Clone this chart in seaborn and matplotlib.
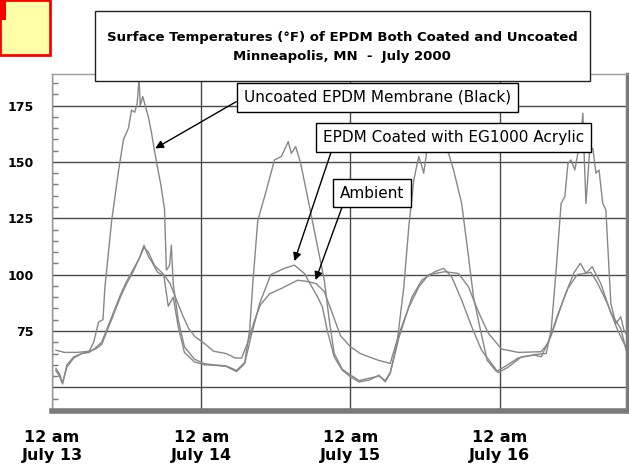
import matplotlib
matplotlib.use("Agg")
import matplotlib.pyplot as plt
import matplotlib.patches as mpatches
from matplotlib.ticker import MultipleLocator
import pandas as pd
import seaborn as sns

# hours since 12 am July 13, temperatures in deg F
AMB_HRS = [0.6, 2, 4, 6, 7, 8, 9, 10, 11, 12, 13, 14, 14.8, 15.5, 16.5, 18, 19, 20, 21, 22, 23,
           24.5, 26, 28, 29.5, 30.5, 31.5, 32.5, 33.5, 35, 37, 39.5, 41, 42.5, 43.8, 44.8, 45.6,
           46.4, 48, 49.6, 51, 52.5, 54.4, 55.8, 57.4, 59, 60.6, 63.2, 65.4, 67, 68, 69, 70.2,
           72.3, 75, 78.7, 79.8, 81.4, 83, 84.5, 86.7, 87.7, 89.3, 90.9, 92.6]
AMB_TEMP = [66.5, 65.5, 65.5, 66, 67, 69, 76, 83, 90, 96, 101, 107, 112, 110, 104, 100, 96, 89,
            82, 76, 72.5, 69.5, 66, 65, 63, 63, 70, 79, 86.5, 91.5, 94, 97.5, 97, 96, 92.5, 85,
            79, 73, 68, 65, 63.5, 62, 60.6, 73.5, 85.5, 94.5, 100, 101.3, 100.5, 94.6, 87.5, 81,
            74, 67, 65.5, 65.8, 69.5, 82.5, 94, 100, 101, 96.5, 87.5, 76, 66]

COAT_HRS = [0.6, 1.2, 1.7, 2.4, 3.5, 4.8, 6, 7, 8, 9, 10, 11, 12, 13, 14, 14.8, 15.5, 16, 17, 18,
            18.7, 19.5, 20.3, 21.3, 22.9, 24.5, 26, 28, 29.7, 31, 32, 33.4, 35.2, 37.4, 39, 40.6,
            42.7, 43.5, 44.3, 45.4, 46.7, 48, 49.4, 51, 52.6, 53.6, 54.4, 55.8, 57.9, 59.5, 61.6,
            63, 64.3, 65.9, 67.5, 69.1, 70.7, 71.8, 73.4, 75.5, 77.6, 78.7, 80.3, 82.4, 84, 85,
            85.9, 86.9, 88.3, 89.9, 91.5, 92.6]
COAT_TEMP = [57.5, 55, 51.5, 60, 63.5, 65, 65.5, 67.5, 70, 77, 84, 91, 97, 102, 107, 113, 108, 106,
             101, 99.5, 86, 90, 77, 65.5, 61.3, 60, 59.8, 59.3, 57, 60.6, 72.4, 87.2, 100, 102.8,
             104.2, 100.5, 90.2, 85.7, 75, 63.5, 57.6, 54.7, 52.4, 53.2, 55.4, 52.4, 56.1, 72, 90,
             97.6, 101.3, 102.8, 99, 88.7, 77, 66.5, 60.6, 56.5, 59, 63.5, 64.3, 63.5, 73, 90, 101,
             105, 100.6, 103.5, 96, 83, 76, 64]

UNC_HRS = [0.6, 1.2, 1.7, 2.4, 3.5, 4.8, 6, 6.7, 7.5, 8.2, 8.5, 9.6, 10.7, 11.5, 12.3, 12.8, 13.3,
           13.7, 14, 14.2, 14.6, 15.5, 16, 16.8, 17.5, 18.1, 18.4, 18.9, 19.2, 19.5, 20.3, 21.3,
           22.9, 24.5, 26, 28, 29.7, 31, 31.8, 32.3, 33.1, 34.2, 35.8, 36.9, 37.5, 38, 38.5, 39.2,
           40, 41.1, 42.4, 43.8, 44.6, 45.4, 46.7, 48, 49.4, 51, 52.6, 53.6, 54.4, 55.5, 56.6,
           57.4, 58.2, 59, 59.5, 59.8, 60.3, 61, 62, 63, 63.8, 64.6, 65.9, 67, 67.8, 68.8, 70,
           71.5, 73, 75, 77.6, 79.5, 80.3, 81.1, 81.9, 82.5, 83, 83.5, 84.1, 84.6, 85.1, 85.4,
           85.6, 85.9, 86.5, 87, 87.5, 88, 88.6, 89.1, 89.9, 90.7, 91.5, 92, 92.6]
UNC_TEMP = [58.5, 56, 52, 59, 63, 65, 66, 70, 79, 80, 94, 124, 146, 160, 165, 173, 172, 176, 187,
            175, 179, 170, 163, 150, 140, 129, 102, 104, 113, 96, 80, 68, 62.5, 60.5, 60, 59.5,
            57.5, 61, 75.4, 96, 124, 134.6, 150.9, 152.4, 156, 159, 153.8, 156.8, 149.4, 134.6,
            116.8, 97.6, 79.8, 65, 58, 55.5, 53, 54, 55, 53, 56.5, 69.5, 94.6, 121.3, 142, 152.4,
            148, 145, 155, 157, 158, 156, 153.8, 146.4, 131.6, 108, 90.2, 77, 62, 57, 59.5, 63,
            64.5, 65, 75.4, 102, 131.6, 134.6, 149.4, 150.9, 146.4, 153.8, 161.2, 171.6, 153.8,
            131.6, 155.3, 156, 145, 146.4, 131.6, 128.7, 87.2, 78.3, 81.3, 75.4, 72.6]

X_TICKS = [0, 24, 48, 72]
X_LABELS = ["12 am\nJuly 13", "12 am\nJuly 14", "12 am\nJuly 15", "12 am\nJuly 16"]
Y_TICKS = [50, 75, 100, 125, 150, 175]
Y_LABELS = ["", "75", "100", "125", "150", "175"]

TITLE = "Surface Temperatures (\u00b0F) of EPDM Both Coated and Uncoated\nMinneapolis, MN  -  July 2000"

LINE_CLR = "#878787"
GRID_CLR = "#4a4a4a"
FRAME_CLR = "#7a7a7a"

sns.set_style("white")
plt.rcParams["font.family"] = ["DejaVu Sans"]
plt.rcParams["text.color"] = "black"
plt.rcParams["xtick.color"] = "black"
plt.rcParams["ytick.color"] = "black"

df = pd.concat([
    pd.DataFrame({"hour": UNC_HRS, "temp": UNC_TEMP, "series": "Uncoated"}),
    pd.DataFrame({"hour": COAT_HRS, "temp": COAT_TEMP, "series": "Coated"}),
    pd.DataFrame({"hour": AMB_HRS, "temp": AMB_TEMP, "series": "Ambient"}),
])

fig = plt.figure(figsize=(6.29, 4.66), dpi=100)
ax = fig.add_axes([52 / 629, 1 - 411 / 466, 575 / 629, 337 / 466])

sns.lineplot(data=df, x="hour", y="temp", hue="series", sort=False, estimator=None,
             palette=[LINE_CLR] * 3, linewidth=1.0, legend=False, ax=ax, zorder=2)

ax.set_xlim(0, 92.5)
ax.set_ylim(39.5, 189)
ax.set_xlabel("")
ax.set_ylabel("")

ax.set_xticks(X_TICKS)
ax.set_xticklabels(X_LABELS, fontsize=11.5, fontweight="bold", linespacing=1.25, color="black")
ax.set_yticks(Y_TICKS)
ax.set_yticklabels(Y_LABELS, fontsize=9, fontweight="bold", color="black")
ax.yaxis.set_minor_locator(MultipleLocator(5))

ax.set_axisbelow(True)
ax.grid(True, which="major", color=GRID_CLR, linewidth=1.0)
ax.tick_params(axis="x", which="major", direction="out", length=10, width=1,
               color=GRID_CLR, pad=4)
ax.tick_params(axis="y", which="major", direction="out", length=5, width=1,
               color=GRID_CLR, pad=8)
ax.tick_params(axis="y", which="minor", direction="in", length=4, width=1,
               color=FRAME_CLR, left=True)

for side in ["top", "left"]:
    ax.spines[side].set_color("#999999")
    ax.spines[side].set_linewidth(1.0)
ax.spines["bottom"].set_color(FRAME_CLR)
ax.spines["bottom"].set_linewidth(4)
ax.spines["right"].set_color(FRAME_CLR)
ax.spines["right"].set_linewidth(2.5)

box = dict(boxstyle="square,pad=0.45", fc="white", ec="black", lw=1)
arrow = dict(arrowstyle="-|>", color="black", lw=1, mutation_scale=12, shrinkA=0, shrinkB=0)

ax.annotate("Uncoated EPDM Membrane (Black)", xy=(16.6, 156), xytext=(52.3, 178.6),
            ha="center", va="center", fontsize=11, bbox=box, zorder=5,
            arrowprops=dict(arrow, relpos=(0, 0.5)))
ax.annotate("EPDM Coated with EG1000 Acrylic", xy=(39.0, 106), xytext=(64.6, 160.7),
            ha="center", va="center", fontsize=11, bbox=box, zorder=5,
            arrowprops=dict(arrow, relpos=(0.04, 0)))
ax.annotate("Ambient", xy=(42.4, 97.6), xytext=(51.5, 136.2),
            ha="center", va="center", fontsize=11, bbox=box, zorder=5,
            arrowprops=dict(arrow, relpos=(0.07, 0)))

# title box
fig.patches.append(mpatches.Rectangle((95 / 629, 1 - 81 / 466), 495 / 629, 70 / 466,
                                      transform=fig.transFigure, fc="white", ec="#222222", lw=1))
fig.text(342 / 629, 1 - 47 / 466, TITLE, ha="center", va="center", fontsize=9.5,
         fontweight="bold", linespacing=1.55, color="black")

# cropped sticky-note corner top left
fig.patches.append(mpatches.Rectangle((0, 1 - 55 / 466), 50 / 629, 55 / 466,
                                      transform=fig.transFigure, fc="#ffffa8", ec="red", lw=2))
fig.patches.append(mpatches.Rectangle((0, 1 - 20 / 466), 6 / 629, 20 / 466,
                                      transform=fig.transFigure, fc="red", ec="none"))

fig.savefig("out.png", dpi=100)
